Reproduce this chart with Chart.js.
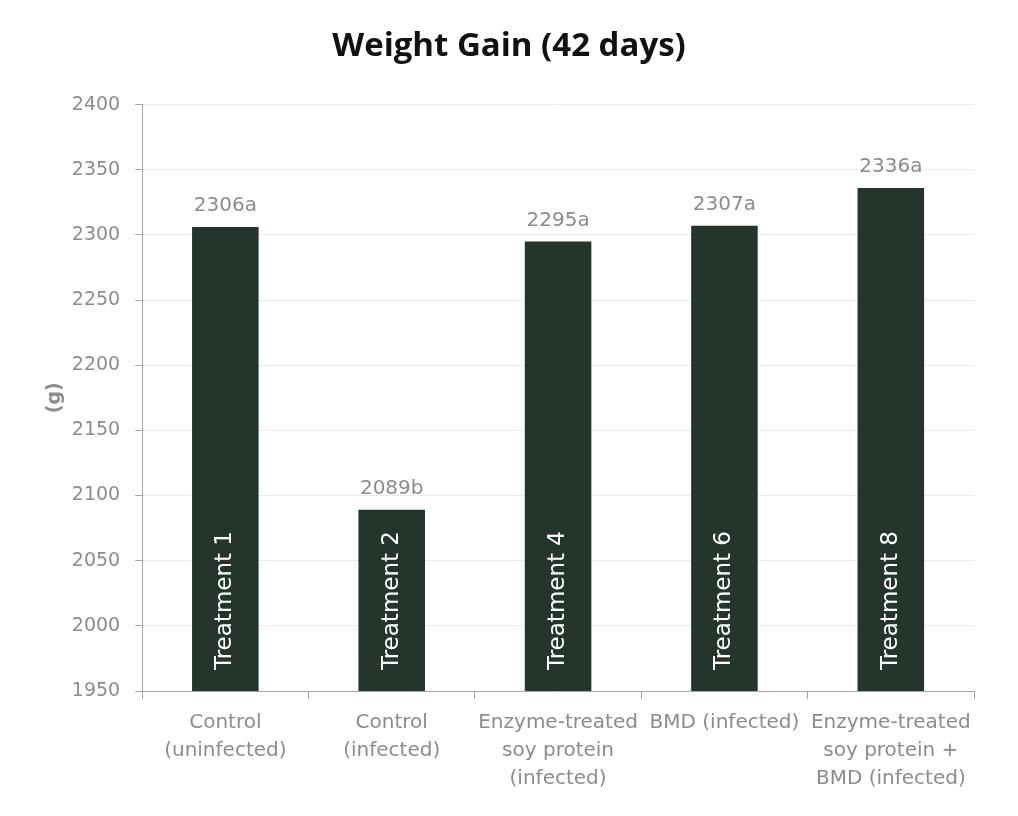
<!DOCTYPE html>
<html>
<head>
<meta charset="utf-8">
<script src="https://cdn.jsdelivr.net/npm/chart.js@4"></script>
<style>
    html, body { margin: 0; padding: 0; background: #ffffff; }
    #wrap { width: 1018px; height: 816px; }
</style>
</head>
<body>
<div id="wrap"><canvas id="chart"></canvas></div>
<script>
// Categories (x axis, multi-line)
const categories = [
    ["Control", "(uninfected)"],
    ["Control", "(infected)"],
    ["Enzyme-treated", "soy protein", "(infected)"],
    ["BMD (infected)"],
    ["Enzyme-treated", "soy protein +", "BMD (infected)"]
];
// Weight gain values (g)
const weightGain = [2306, 2089, 2295, 2307, 2336];
// Significance letters shown after each value
const letters = ["a", "b", "a", "a", "a"];
// Labels written inside the bars
const treatments = ["Treatment 1", "Treatment 2", "Treatment 4", "Treatment 6", "Treatment 8"];

const GREY = "#8c8c8c";

// Draw the value label above each bar and the treatment name inside it
const barLabels = {
    id: "barLabels",
    afterDatasetsDraw(chart) {
        const ctx = chart.ctx;
        const meta = chart.getDatasetMeta(0);
        const bottom = chart.chartArea.bottom;
        meta.data.forEach((bar, i) => {
            ctx.save();
            ctx.fillStyle = GREY;
            ctx.font = "20px 'DejaVu Sans'";
            ctx.textAlign = "center";
            ctx.textBaseline = "bottom";
            ctx.fillText(weightGain[i] + letters[i], bar.x, bar.y - 11);
            ctx.restore();

            ctx.save();
            ctx.translate(bar.x, bottom - 21);
            ctx.rotate(-Math.PI / 2);
            ctx.fillStyle = "#ffffff";
            ctx.font = "23px 'DejaVu Sans'";
            ctx.textAlign = "left";
            ctx.textBaseline = "middle";
            ctx.fillText(treatments[i], 0, 0);
            ctx.restore();
        });
    }
};

new Chart(document.getElementById("chart").getContext("2d"), {
    type: "bar",
    data: {
        labels: categories,
        datasets: [{
            data: weightGain,
            backgroundColor: "#24352b",
            categoryPercentage: 1.0,
            barPercentage: 0.4
        }]
    },
    options: {
        responsive: true,
        maintainAspectRatio: false,
        animation: false,
        layout: { padding: { top: 0, right: 44, bottom: 13, left: 44 } },
        plugins: {
            legend: { display: false },
            tooltip: { enabled: false },
            title: {
                display: true,
                text: "Weight Gain (42 days)",
                color: "#111111",
                font: { family: "'Open Sans'", size: 33, weight: "bold" },
                padding: { top: 27, bottom: 38 }
            }
        },
        scales: {
            x: {
                border: { display: true, color: "#a6a6a6", width: 1 },
                grid: {
                    display: true,
                    offset: true,
                    drawOnChartArea: false,
                    drawTicks: true,
                    tickLength: 8,
                    tickColor: "#a6a6a6"
                },
                ticks: {
                    color: GREY,
                    font: { family: "'DejaVu Sans'", size: 20, lineHeight: 1.4 },
                    maxRotation: 0,
                    autoSkip: false,
                    padding: 10
                }
            },
            y: {
                min: 1950,
                max: 2400,
                border: { display: true, color: "#a6a6a6", width: 1 },
                grid: {
                    color: "#ebebeb",
                    drawTicks: true,
                    tickLength: 7,
                    tickColor: "#a6a6a6"
                },
                ticks: {
                    stepSize: 50,
                    color: GREY,
                    font: { family: "'DejaVu Sans'", size: 19 },
                    padding: 15,
                    callback: (v) => String(v)
                },
                title: {
                    display: true,
                    text: "(g)",
                    color: GREY,
                    font: { family: "'DejaVu Sans'", size: 19, weight: "bold" },
                    padding: { top: 0, bottom: -10 }
                }
            }
        }
    },
    plugins: [barLabels]
});
</script>
</body>
</html>
